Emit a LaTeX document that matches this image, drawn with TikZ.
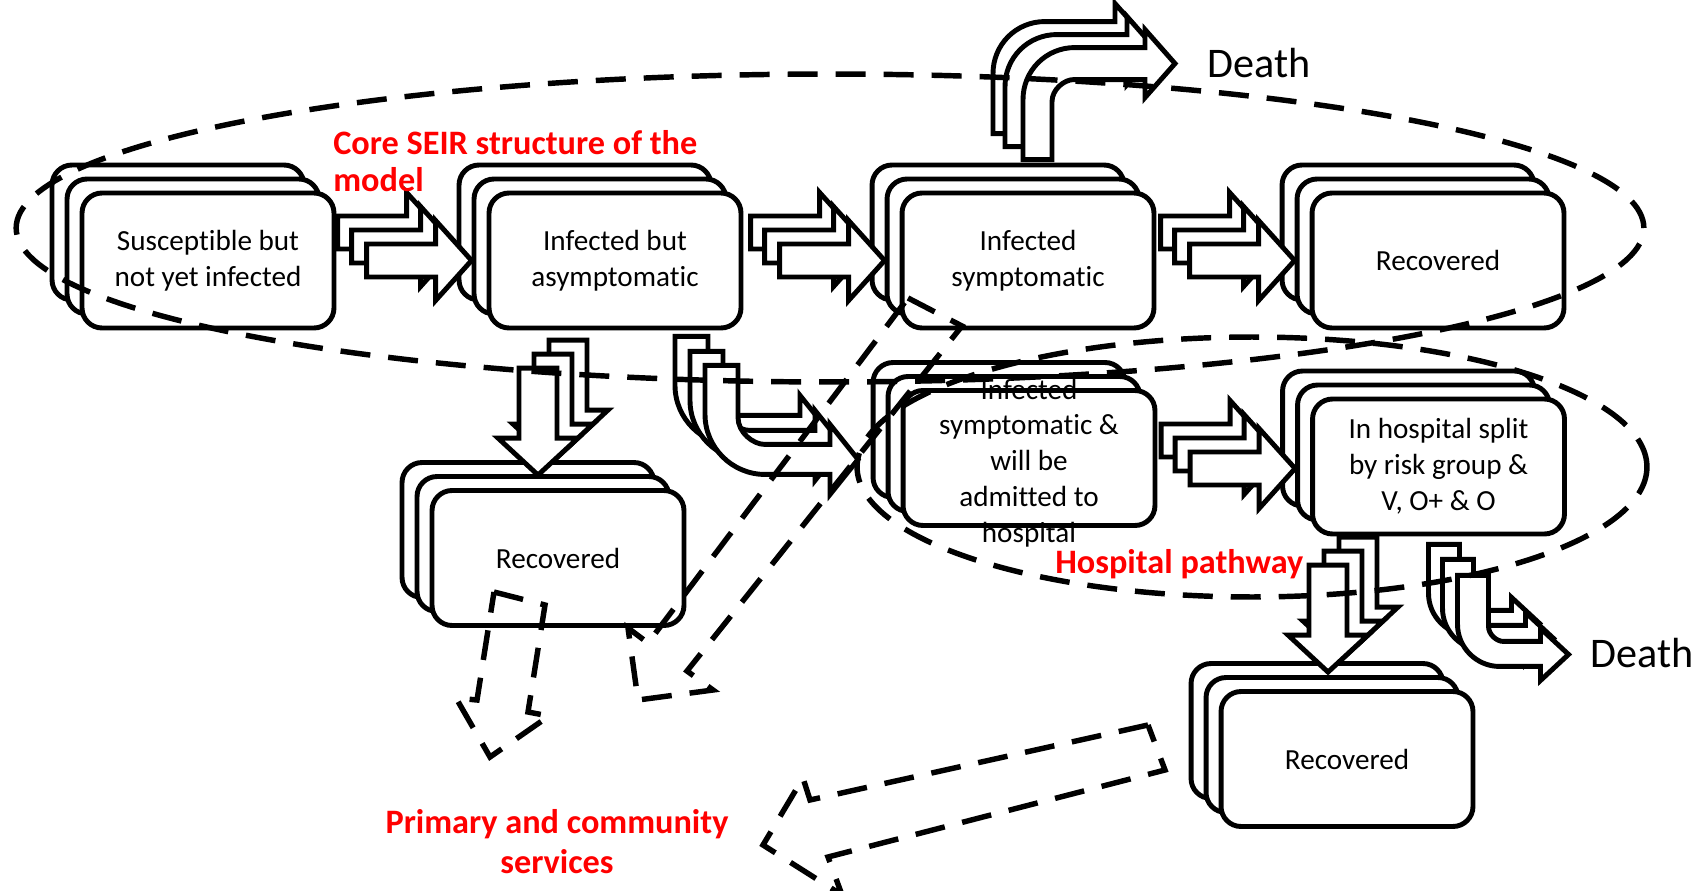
\documentclass[tikz,border=0pt]{standalone}
\usepackage{fontspec}
\setmainfont[Ligatures=NoCommon]{Carlito}
\usetikzlibrary{shadows,calc}

\newcommand\cmpfont{\fontsize{16.6}{20.4}\selectfont}
\newcommand\tagfont{\bfseries\fontsize{19.5}{22}\selectfont}
\newcommand\deathfont{\fontsize{24}{28}\selectfont}

\tikzset{
  blk/.style={draw=black, fill=white, line width=2.8pt, line join=miter},
  dsh/.style={draw=black, line width=3.1pt, dash pattern=on 0.6cm off 0.36cm},
  box/.style={blk, rounded corners=0.4cm, minimum width=5.04cm, minimum height=2.7cm,
    inner sep=2pt, align=center, font=\cmpfont,
    general shadow={shadow xshift=-0.6cm, shadow yshift=0.56cm, draw=black, fill=white, line width=2.8pt},
    general shadow={shadow xshift=-0.3cm, shadow yshift=0.28cm, draw=black, fill=white, line width=2.8pt}},
  tag/.style={text=red, font=\tagfont, inner sep=0pt},
  endlabel/.style={font=\deathfont, inner sep=0pt},
  pics/harrow/.style={code={
    \foreach \dx/\dy in {-29/-28,-15/-14,0/0}
      \draw[blk, shift={(\dx,\dy)}] (-105,-16.5) -- (-36,-16.5) -- (-36,-40) -- (0,0)
        -- (-36,40) -- (-36,16.5) -- (-105,16.5) -- cycle;
  }},
  pics/varrow/.style={code={
    \foreach \dx/\dy in {30/-28,15/-14,0/0}
      \draw[blk, shift={(\dx,\dy)}] (-19,-107) -- (19,-107) -- (19,-37) -- (40,-37) -- (0,0)
        -- (-40,-37) -- (-19,-37) -- cycle;
  }},
}

\begin{document}
\begin{tikzpicture}[x=0.02cm, y=-0.02cm]
\useasboundingbox (0,0) rectangle (1702,891);

% compartments
\node[box] (S)  at (208,260.5)  {Susceptible but\\not yet infected};
\node[box] (A)  at (615,260.5)  {Infected but\\asymptomatic};
\node[box] (IS) at (1028,260.5) {Infected\\symptomatic};
\node[box] (R)  at (1438,260.5) {Recovered};
\node[box] (H1) at (1029,458)   {};
\node[font=\cmpfont, align=center, inner sep=0pt] (H1text) at (1029,463)
  {Infected\\symptomatic \&\\will be\\admitted to\\hospital};
\node[box] (H2) at (1438.5,466.5) {In hospital split\\by risk group \&\\V, O+ \& O};
\node[box] (R2) at (558,558)    {Recovered};
\node[box] (R3) at (1347,759)   {Recovered};

% straight block arrows
\pic at ($(A.west)+(-15,0)$)  {harrow};
\pic at ($(IS.west)+(-15,0)$) {harrow};
\pic at ($(R.west)+(-15,0)$)  {harrow};
\pic at ($(H2.west)+(-15,2)$) {harrow};
\pic at ($(R2.north)+(-20,-13)$) {varrow};
\pic at ($(R3.north)+(-19,-17)$) {varrow};

% bent block arrows
\foreach \dx/\dy in {-30/-29,-15/-14,0/0}
  \draw[blk, shift={(A.south)}, shift={(\dx,\dy)}] (90,35) -- (90,84)
    .. controls (90,117) and (117,144) .. (150,144) -- (215,144) -- (215,164) -- (243,129)
    -- (215,94) -- (215,114) -- (150,114) .. controls (138,114) and (123,102) .. (123,87)
    -- (123,35) -- cycle;
\foreach \dx/\dy in {-30/-26,-18/-13,0/0}
  \draw[blk, shift={(IS.north)}, shift={(\dx,\dy)}] (-5,-31) -- (-5,-91)
    .. controls (-5,-120) and (18,-143) .. (47,-143) -- (117,-143) -- (117,-161) -- (147,-127)
    -- (117,-93) -- (117,-111) -- (46,-111) .. controls (36,-111) and (24,-101) .. (24,-89)
    -- (24,-31) -- cycle;
\foreach \dx/\dy in {-29/-31,-15/-16,0/0}
  \draw[blk, shift={(H2.south)}, shift={(\dx,\dy)}] (19,39) -- (19,88)
    .. controls (19,111) and (38,130) .. (61,130) -- (102,130) -- (102,144) -- (130,118)
    -- (102,92) -- (102,105) -- (65,105) .. controls (58,105) and (50,98) .. (50,90)
    -- (50,39) -- cycle;

% groupings
\draw[dsh] (830,228) ellipse [x radius=16.28cm, y radius=3.08cm];
\draw[dsh] (1252,467) ellipse [x radius=7.9cm, y radius=2.6cm];

% flows to primary and community services
\draw[dsh, line join=miter] (494,592) -- (545,605) -- (528,712) -- (549,716) -- (490,757)
  -- (456,698) -- (477,700) -- cycle;
\draw[dsh, line join=miter] (908,298) -- (962,326) -- (687,671) -- (713,690) -- (638,700)
  -- (628,628) -- (648,643) -- cycle;
\draw[dsh, line join=miter] (1148,725) -- (810,800) -- (803,778) -- (763,845) -- (842,895)
  -- (828,857) -- (1165,770) -- cycle;

% labels
\node[tag, anchor=base west] (core1) at (333,155) {Core SEIR structure of the};
\node[tag, anchor=base west] (core2) at (333,192) {model};
\node[tag, anchor=base west] (hosp) at (1055,573) {Hospital pathway};
\node[tag, anchor=base] (prim1) at (557,833) {Primary and community};
\node[tag, anchor=base] (prim2) at (557,873) {services};
\node[endlabel, anchor=base west] (death1) at (1207,78) {Death};
\node[endlabel, anchor=base west] (death2) at (1590,667) {Death};
\end{tikzpicture}
\end{document}
